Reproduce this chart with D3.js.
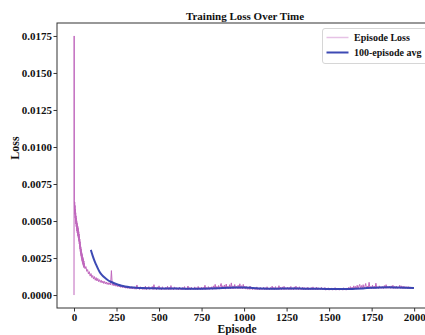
<!DOCTYPE html>
<html>
<head>
<meta charset="utf-8">
<script src="https://cdn.jsdelivr.net/npm/d3@7"></script>
<style>
  html, body { margin: 0; padding: 0; background: #fff; }
  svg { display: block; }
  text { font-family: "Liberation Serif", "Times New Roman", serif; font-weight: bold; fill: #111; }
</style>
</head>
<body>
<svg id="chart" width="425" height="335"></svg>
<script>
// Per-episode loss, episodes 0..59
const earlyLoss = [
  0.00000, 0.01750, 0.00640, 0.00570, 0.00628, 0.00545, 0.00605, 0.00520, 0.00580, 0.00498,
  0.00556, 0.00480, 0.00535, 0.00462, 0.00520, 0.00448, 0.00502, 0.00432, 0.00488, 0.00420,
  0.00476, 0.00410, 0.00466, 0.00398, 0.00455, 0.00388, 0.00442, 0.00375, 0.00428, 0.00362,
  0.00412, 0.00345, 0.00395, 0.00328, 0.00378, 0.00310, 0.00360, 0.00294, 0.00342, 0.00280,
  0.00326, 0.00266, 0.00312, 0.00254, 0.00298, 0.00242, 0.00286, 0.00232, 0.00275, 0.00222,
  0.00265, 0.00214, 0.00255, 0.00206, 0.00246, 0.00198, 0.00238, 0.00190, 0.00230, 0.00184
];
const lateStartEpisode = 60;
const lateStepEpisodes = 5;
// Per-episode loss, every 5th episode from 60 to 1995
const lateLoss = [
  0.00215, 0.00178, 0.00192, 0.00160, 0.00172, 0.00142, 0.00158, 0.00128, 0.00145, 0.00118,
  0.00132, 0.00108, 0.00125, 0.00100, 0.00118, 0.00095, 0.00112, 0.00090, 0.00104, 0.00086,
  0.00100, 0.00082, 0.00095, 0.00078, 0.00092, 0.00075, 0.00088, 0.00072, 0.00084, 0.00070,
  0.00082, 0.00068, 0.00165, 0.00066, 0.00078, 0.00062, 0.00074, 0.00060, 0.00070, 0.00057,
  0.00068, 0.00055, 0.00064, 0.00052, 0.00061, 0.00050, 0.00062, 0.00048, 0.00058, 0.00046,
  0.00056, 0.00045, 0.00060, 0.00043, 0.00054, 0.00042, 0.00058, 0.00041, 0.00052, 0.00040,
  0.00055, 0.00039, 0.00068, 0.00041, 0.00053, 0.00038, 0.00056, 0.00040, 0.00050, 0.00037,
  0.00054, 0.00039, 0.00060, 0.00036, 0.00052, 0.00040, 0.00057, 0.00038, 0.00049, 0.00041,
  0.00058, 0.00037, 0.00070, 0.00039, 0.00051, 0.00036, 0.00055, 0.00040, 0.00062, 0.00038,
  0.00050, 0.00035, 0.00056, 0.00039, 0.00047, 0.00036, 0.00053, 0.00038, 0.00059, 0.00037,
  0.00052, 0.00036, 0.00064, 0.00038, 0.00049, 0.00035, 0.00055, 0.00039, 0.00051, 0.00036,
  0.00048, 0.00035, 0.00054, 0.00037, 0.00046, 0.00034, 0.00052, 0.00038, 0.00057, 0.00036,
  0.00047, 0.00035, 0.00061, 0.00037, 0.00050, 0.00034, 0.00053, 0.00038, 0.00046, 0.00036,
  0.00055, 0.00037, 0.00049, 0.00035, 0.00058, 0.00038, 0.00050, 0.00036, 0.00054, 0.00037,
  0.00052, 0.00038, 0.00066, 0.00036, 0.00051, 0.00039, 0.00057, 0.00037, 0.00053, 0.00040,
  0.00056, 0.00038, 0.00062, 0.00040, 0.00072, 0.00039, 0.00058, 0.00041, 0.00064, 0.00040,
  0.00060, 0.00078, 0.00041, 0.00063, 0.00042, 0.00068, 0.00040, 0.00074, 0.00043, 0.00059,
  0.00042, 0.00070, 0.00041, 0.00082, 0.00043, 0.00062, 0.00042, 0.00071, 0.00044, 0.00058,
  0.00043, 0.00066, 0.00042, 0.00076, 0.00044, 0.00063, 0.00041, 0.00072, 0.00043, 0.00060,
  0.00040, 0.00058, 0.00039, 0.00054, 0.00038, 0.00061, 0.00039, 0.00052, 0.00037, 0.00050,
  0.00038, 0.00049, 0.00036, 0.00055, 0.00037, 0.00048, 0.00035, 0.00052, 0.00036, 0.00047,
  0.00037, 0.00053, 0.00036, 0.00049, 0.00035, 0.00056, 0.00037, 0.00048, 0.00036, 0.00051,
  0.00038, 0.00060, 0.00037, 0.00052, 0.00036, 0.00057, 0.00038, 0.00050, 0.00037, 0.00063,
  0.00038, 0.00053, 0.00036, 0.00055, 0.00037, 0.00059, 0.00036, 0.00050, 0.00038, 0.00054,
  0.00037, 0.00052, 0.00036, 0.00058, 0.00037, 0.00049, 0.00035, 0.00055, 0.00038, 0.00060,
  0.00037, 0.00051, 0.00036, 0.00056, 0.00037, 0.00048, 0.00035, 0.00054, 0.00036, 0.00050,
  0.00035, 0.00049, 0.00036, 0.00053, 0.00034, 0.00047, 0.00036, 0.00051, 0.00035, 0.00055,
  0.00036, 0.00048, 0.00035, 0.00054, 0.00034, 0.00050, 0.00036, 0.00046, 0.00035, 0.00052,
  0.00034, 0.00047, 0.00035, 0.00051, 0.00033, 0.00046, 0.00035, 0.00049, 0.00033, 0.00045,
  0.00034, 0.00048, 0.00033, 0.00044, 0.00034, 0.00050, 0.00033, 0.00045, 0.00034, 0.00047,
  0.00033, 0.00046, 0.00034, 0.00043, 0.00033, 0.00049, 0.00034, 0.00044, 0.00033, 0.00048,
  0.00035, 0.00052, 0.00036, 0.00057, 0.00037, 0.00054, 0.00038, 0.00062, 0.00039, 0.00058,
  0.00040, 0.00066, 0.00041, 0.00060, 0.00072, 0.00042, 0.00064, 0.00043, 0.00070, 0.00044,
  0.00058, 0.00078, 0.00042, 0.00060, 0.00043, 0.00086, 0.00044, 0.00058, 0.00042, 0.00066,
  0.00044, 0.00060, 0.00043, 0.00080, 0.00045, 0.00056, 0.00044, 0.00062, 0.00046, 0.00057,
  0.00045, 0.00058, 0.00044, 0.00064, 0.00046, 0.00070, 0.00045, 0.00057, 0.00046, 0.00060,
  0.00045, 0.00062, 0.00046, 0.00066, 0.00044, 0.00058, 0.00045, 0.00061, 0.00043, 0.00055,
  0.00046, 0.00066, 0.00045, 0.00062, 0.00044, 0.00060, 0.00043, 0.00058, 0.00044, 0.00056,
  0.00043, 0.00057, 0.00042, 0.00055, 0.00043, 0.00054, 0.00042, 0.00050
];
// 100-episode moving average
const avgEpisodes = [99, 110, 120, 130, 140, 150, 165, 180, 200, 220, 240, 260, 280, 300, 330, 360, 400,
  450, 500, 550, 600, 650, 700, 750, 800, 850, 900, 950, 1000, 1050, 1100, 1150, 1200, 1250, 1300,
  1350, 1400, 1450, 1500, 1550, 1600, 1650, 1700, 1750, 1800, 1850, 1900, 1950, 1999];
const avgLoss = [0.00305, 0.00265, 0.00232, 0.00205, 0.00180, 0.00158, 0.00135, 0.00118, 0.00100, 0.00088,
  0.00078, 0.00070, 0.00063, 0.00058, 0.00053, 0.00050, 0.00047,
  0.00046, 0.00045, 0.00044, 0.00044, 0.00043, 0.00043, 0.00043, 0.00044, 0.00046, 0.00049, 0.00051,
  0.00051, 0.00048, 0.00044, 0.00043, 0.00043, 0.00044, 0.00044, 0.00043, 0.00042, 0.00042, 0.00041,
  0.00040, 0.00040, 0.00042, 0.00045, 0.00049, 0.00051, 0.00052, 0.00051, 0.00050, 0.00048];

const xTicks = [0, 250, 500, 750, 1000, 1250, 1500, 1750, 2000];
const yTicks = [0, 0.0025, 0.005, 0.0075, 0.01, 0.0125, 0.015, 0.0175];
const titleText = "Training Loss Over Time";
const xLabel = "Episode";
const yLabel = "Loss";
const seriesNames = ["Episode Loss", "100-episode avg"];

const pinkColor = "#c067bd";
const blueColor = "#3340b0";

const lossPoints = earlyLoss.map((v, i) => ({ ep: i, v }))
  .concat(lateLoss.map((v, i) => ({ ep: lateStartEpisode + i * lateStepEpisodes, v })));
const avgPoints = avgEpisodes.map((ep, i) => ({ ep, v: avgLoss[i] }));

const svg = d3.select("#chart");
const plot = { left: 57, right: 431, top: 23, bottom: 308 };

// axes limits padded by 5% like the default plotting margins
const xMin = 0, xMax = 1999, yMin = 0, yMax = 0.0175;
const xPad = (xMax - xMin) * 0.05, yPad = (yMax - yMin) * 0.05;
const x = d3.scaleLinear().domain([xMin - xPad, xMax + xPad]).range([plot.left, plot.right]);
const y = d3.scaleLinear().domain([yMin - yPad, yMax + yPad]).range([plot.bottom, plot.top]);

svg.append("defs").append("clipPath").attr("id", "plotClip")
  .append("rect").attr("x", plot.left).attr("y", plot.top)
  .attr("width", plot.right - plot.left).attr("height", plot.bottom - plot.top);

const marks = svg.append("g").attr("clip-path", "url(#plotClip)");

// raw per-episode loss
const rawLine = d3.line().x(d => x(d.ep)).y(d => y(d.v));
marks.append("path").datum(lossPoints).attr("d", rawLine)
  .attr("fill", "none").attr("stroke", pinkColor).attr("stroke-width", 1)
  .attr("stroke-linejoin", "miter");

// moving average on top
const avgLine = d3.line().x(d => x(d.ep)).y(d => y(d.v)).curve(d3.curveMonotoneX);
marks.append("path").datum(avgPoints).attr("d", avgLine)
  .attr("fill", "none").attr("stroke", blueColor).attr("stroke-width", 2)
  .attr("stroke-opacity", 0.95).attr("stroke-linejoin", "round");

// frame
svg.append("rect").attr("x", plot.left).attr("y", plot.top)
  .attr("width", plot.right - plot.left).attr("height", plot.bottom - plot.top)
  .attr("fill", "none").attr("stroke", "#333").attr("stroke-width", 1);

const fmtY = d3.format(".4f");
const xAxis = svg.append("g").attr("transform", `translate(0,${plot.bottom})`)
  .call(d3.axisBottom(x).tickValues(xTicks).tickFormat(d3.format("d")).tickSizeInner(3.5).tickSizeOuter(0).tickPadding(2));
const yAxis = svg.append("g").attr("transform", `translate(${plot.left},0)`)
  .call(d3.axisLeft(y).tickValues(yTicks).tickFormat(fmtY).tickSizeInner(3.5).tickSizeOuter(0).tickPadding(1.5));
[xAxis, yAxis].forEach(a => {
  a.select(".domain").remove();
  a.selectAll(".tick line").attr("stroke", "#333");
  a.selectAll(".tick text").attr("font-size", 11).attr("font-family", null).attr("fill", "#111");
});

svg.append("text").attr("x", 245).attr("y", 19.5).attr("text-anchor", "middle")
  .attr("font-size", 11).text(titleText);
svg.append("text").attr("x", 237).attr("y", 333).attr("text-anchor", "middle")
  .attr("font-size", 11.5).text(xLabel);
svg.append("text").attr("transform", "translate(19,148) rotate(-90)").attr("text-anchor", "middle")
  .attr("font-size", 12).text(yLabel);

// legend
const lg = svg.append("g");
lg.append("rect").attr("x", 322.5).attr("y", 28.5).attr("width", 110).attr("height", 35)
  .attr("rx", 2.5).attr("fill", "#fff").attr("fill-opacity", 0.85)
  .attr("stroke", "#d6d6d6").attr("stroke-width", 1);
const legendRows = [
  { name: seriesNames[0], color: pinkColor, opacity: 0.4, width: 1.5, yy: 37.5 },
  { name: seriesNames[1], color: blueColor, opacity: 0.95, width: 2, yy: 52.5 }
];
legendRows.forEach(r => {
  lg.append("line").attr("x1", 326.5).attr("x2", 348.5).attr("y1", r.yy).attr("y2", r.yy)
    .attr("stroke", r.color).attr("stroke-opacity", r.opacity).attr("stroke-width", r.width);
  lg.append("text").attr("x", 354).attr("y", r.yy + 3.5).attr("font-size", 10).text(r.name);
});
</script>
</body>
</html>
